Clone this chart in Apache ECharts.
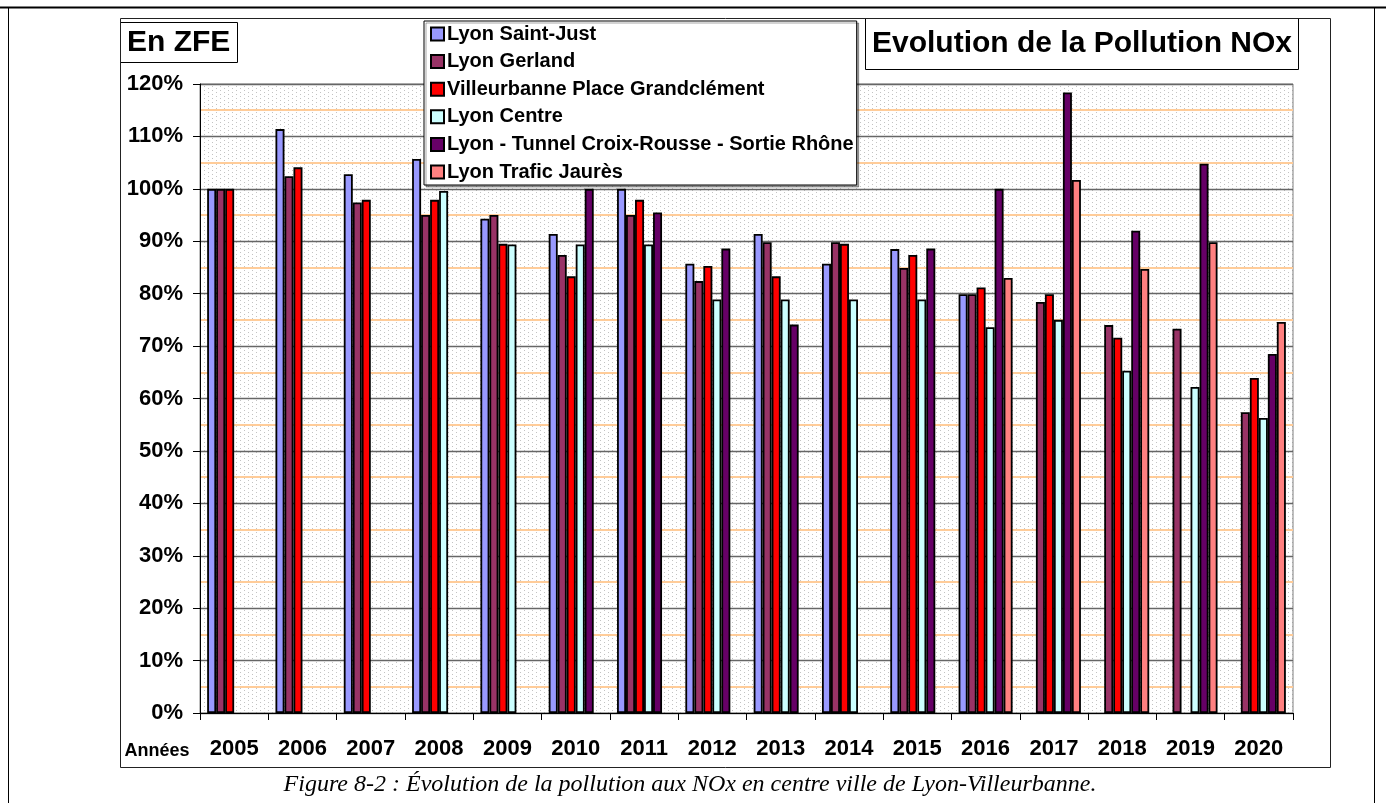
<!DOCTYPE html>
<html>
<head>
<meta charset="utf-8">
<title>Evolution de la Pollution NOx</title>
<script src="https://cdn.jsdelivr.net/npm/echarts@6/dist/echarts.min.js"></script>
<style>
  html, body { margin: 0; padding: 0; background: #fff; }
  #chart { width: 1386px; height: 803px; }
</style>
</head>
<body>
<div id="chart"></div>
<script>
// années (axe des x)
const years = ['2005', '2006', '2007', '2008', '2009', '2010', '2011', '2012',
  '2013', '2014', '2015', '2016', '2017', '2018', '2019', '2020']

// graduations de l'axe des y (%)
const yTicks = [0, 10, 20, 30, 40, 50, 60, 70, 80, 90, 100, 110, 120]

const saintJust = [100, 111.4, 102.8, 105.7, 94.3, 91.4, 100, 85.7, 91.4, 85.7, 88.5, 79.9, null, null, null, null]
const gerland = [100, 102.4, 97.4, 95.0, 95.0, 87.4, 95.0, 82.4, 89.8, 89.8, 84.9, 79.9, 78.4, 74.0, 73.3, 57.4]
const villeurbanne = [100, 104.1, 97.9, 97.9, 89.5, 83.3, 97.9, 85.3, 83.3, 89.5, 87.4, 81.2, 79.9, 71.6, null, 63.9]
const centre = [null, null, null, 99.6, 89.4, 89.4, 89.4, 78.9, 78.9, 78.9, 78.9, 73.6, 75.0, 65.3, 62.2, 56.3]
const tunnel = [null, null, null, null, null, 100, 95.5, 88.6, 74.1, null, 88.6, 100, 118.4, 92.0, 104.8, 68.5]
const jaures = [null, null, null, null, null, null, null, null, null, null, null, 83.0, 101.7, 84.7, 89.8, 74.6]

const stations = [
  { name: 'Lyon Saint-Just', color: '#9999FF', data: saintJust },
  { name: 'Lyon Gerland', color: '#993366', data: gerland },
  { name: 'Villeurbanne Place Grandclément', color: '#FF0000', data: villeurbanne },
  { name: 'Lyon Centre', color: '#CCFFFF', data: centre },
  { name: 'Lyon - Tunnel Croix-Rousse - Sortie Rhône', color: '#660066', data: tunnel },
  { name: 'Lyon Trafic Jaurès', color: '#FF8080', data: jaures },
]

const font = '"Liberation Sans", Arial, sans-serif'

// fond pointillé façon Excel
function dotPattern() {
  const c = document.createElement('canvas')
  c.width = 8
  c.height = 4
  const ctx = c.getContext('2d')
  ctx.fillStyle = '#ffffff'
  ctx.fillRect(0, 0, 8, 4)
  ctx.fillStyle = '#c2c2c2'
  ctx.fillRect(0, 0, 1, 1)
  ctx.fillRect(4, 2, 1, 1)
  return c
}

const chart = echarts.init(document.getElementById('chart'), null, { renderer: 'canvas' })

const option = {
  animation: false,
  backgroundColor: '#fff',
  textStyle: { fontFamily: font },
  title: [
    {
      text: 'En ZFE',
      left: 120,
      top: 22,
      padding: [4, 7],
      borderColor: '#000',
      borderWidth: 1,
      backgroundColor: '#fff',
      textStyle: { fontSize: 30, fontWeight: 'bold', color: '#000', fontFamily: font, lineHeight: 33 },
    },
    {
      text: 'Evolution de la Pollution NOx',
      left: 865,
      top: 18,
      padding: [8, 7],
      borderColor: '#000',
      borderWidth: 1,
      backgroundColor: '#fff',
      textStyle: { fontSize: 30, fontWeight: 'bold', color: '#000', fontFamily: font, lineHeight: 36 },
    },
  ],
  legend: {
    orient: 'vertical',
    left: 424,
    top: 21,
    padding: [3, 3, 3, 6],
    itemGap: 7.6,
    itemWidth: 13,
    itemHeight: 13,
    icon: 'rect',
    backgroundColor: '#fff',
    borderColor: '#000',
    borderWidth: 1,
    shadowColor: 'rgba(0,0,0,0.35)',
    shadowOffsetX: 2,
    shadowOffsetY: 2,
    textStyle: { fontSize: 20, fontWeight: 'bold', color: '#000', fontFamily: font, padding: [0, 0, 0, -2] },
    data: stations.map(s => s.name),
  },
  grid: {
    left: 200,
    right: 93,
    top: 84,
    bottom: 90,
    show: true,
    backgroundColor: { image: dotPattern(), repeat: 'repeat' },
    borderColor: '#808080',
    borderWidth: 1,
  },
  xAxis: {
    type: 'category',
    data: years,
    boundaryGap: true,
    axisLine: { lineStyle: { color: '#000', width: 1 } },
    axisTick: { show: true, length: 7, lineStyle: { color: '#000' } },
    axisLabel: { fontSize: 22, fontWeight: 'bold', color: '#000', margin: 25, fontFamily: font },
  },
  yAxis: {
    type: 'value',
    min: yTicks[0],
    max: yTicks[yTicks.length - 1],
    interval: 10,
    axisLine: { show: true, lineStyle: { color: '#000', width: 1 } },
    axisTick: { show: true, length: 7, lineStyle: { color: '#000' } },
    axisLabel: { formatter: '{value}%', fontSize: 22, fontWeight: 'bold', color: '#000', margin: 17, fontFamily: font },
    splitLine: { show: true, lineStyle: { color: '#666', width: 1.3 } },
    minorTick: { show: false, splitNumber: 2 },
    minorSplitLine: { show: true, lineStyle: { color: '#FFCC99', width: 2 } },
  },
  series: stations.map(s => ({
    name: s.name,
    type: 'bar',
    data: s.data,
    barWidth: 9,
    barGap: '0%',
    itemStyle: { color: s.color, borderColor: '#000', borderWidth: 1.8 },
    emphasis: { disabled: true },
  })),
  graphic: [
    // cadre du graphique
    {
      type: 'rect',
      z: 100,
      shape: { x: 120.5, y: 18.5, width: 1210, height: 749 },
      style: { fill: null, stroke: '#222', lineWidth: 1 },
      silent: true,
    },
    // libellé de l'axe des x
    {
      type: 'text',
      x: 157,
      y: 751,
      style: { text: 'Années', font: 'bold 18px ' + font, fill: '#000', align: 'center', verticalAlign: 'middle' },
    },
    // bordures de page
    {
      type: 'line',
      shape: { x1: 0, y1: 7.5, x2: 1386, y2: 7.5 },
      style: { stroke: '#000', lineWidth: 2 },
    },
    {
      type: 'line',
      shape: { x1: 8.5, y1: 7, x2: 8.5, y2: 803 },
      style: { stroke: '#000', lineWidth: 1 },
    },
    {
      type: 'line',
      shape: { x1: 1374.5, y1: 7, x2: 1374.5, y2: 803 },
      style: { stroke: '#000', lineWidth: 1 },
    },
    // légende de la figure
    {
      type: 'text',
      x: 690,
      y: 785,
      style: {
        text: 'Figure 8-2 : Évolution de la pollution aux NOx en centre ville de Lyon-Villeurbanne.',
        font: 'italic 24px "Liberation Serif", serif',
        fill: '#000',
        align: 'center',
        verticalAlign: 'middle',
      },
    },
  ],
}

chart.setOption(option)
</script>
</body>
</html>
